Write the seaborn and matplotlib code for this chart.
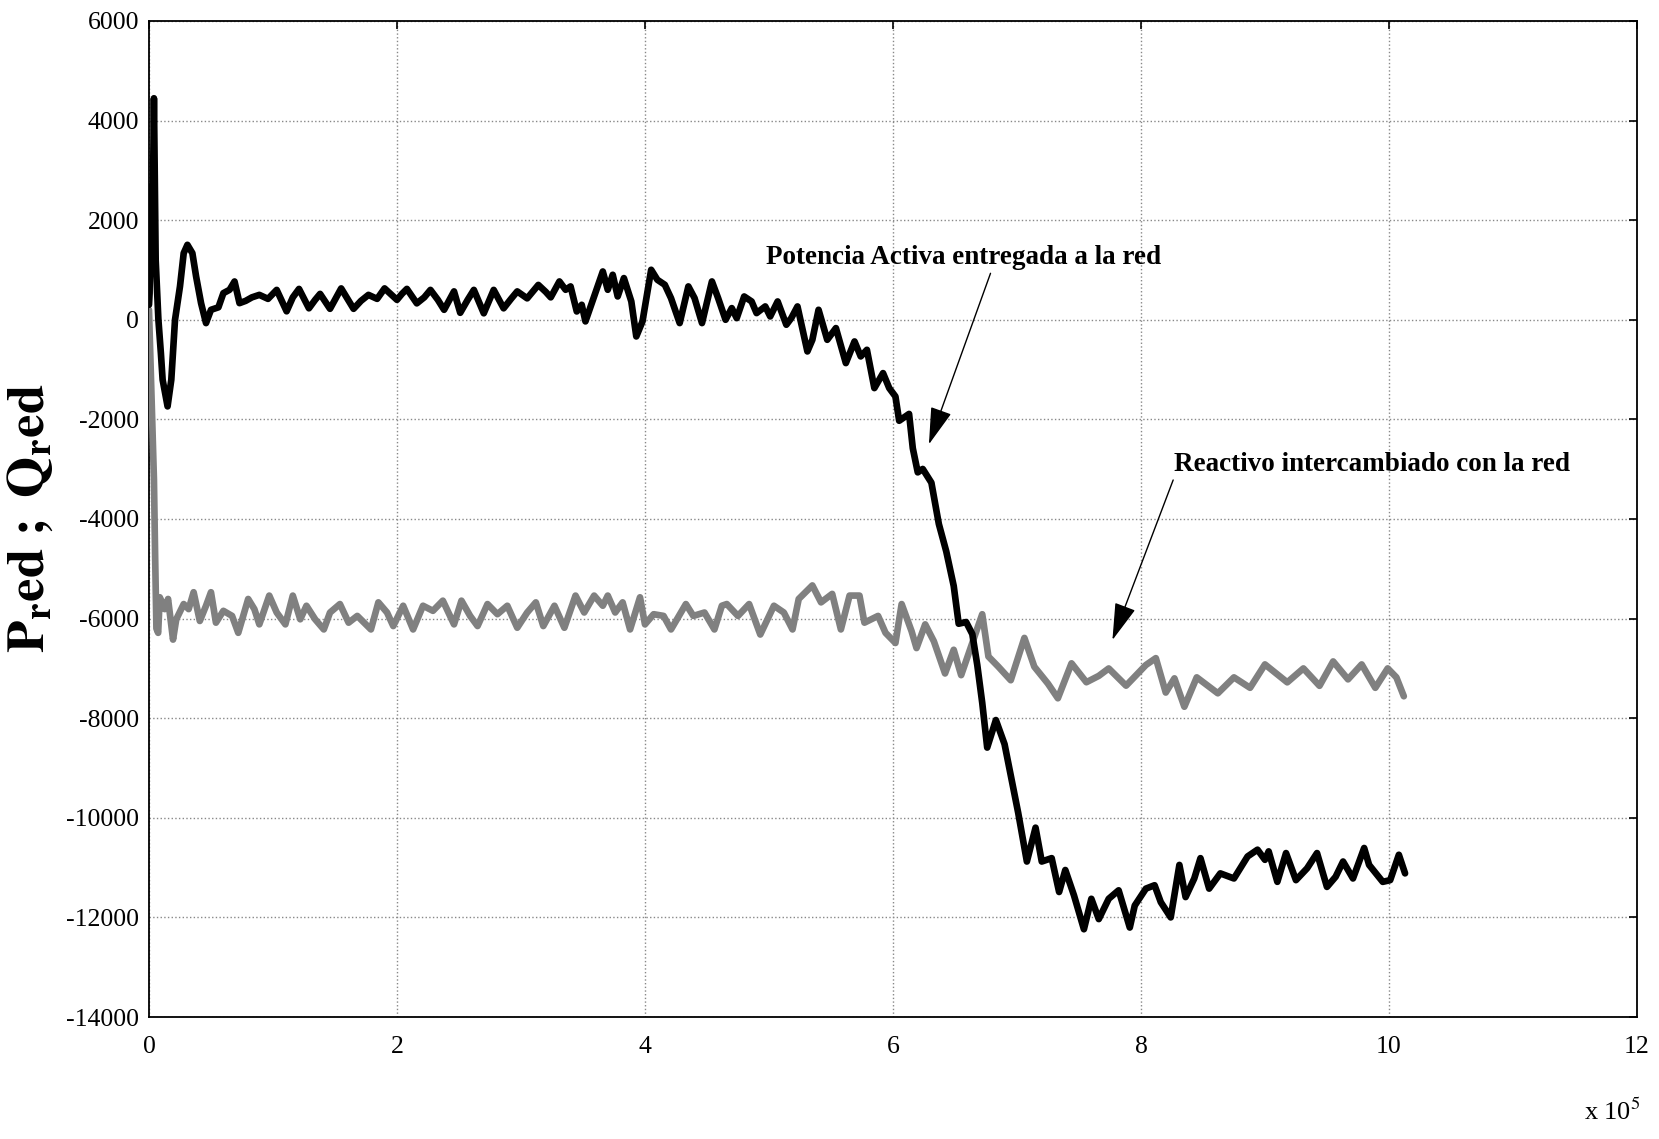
import matplotlib
matplotlib.use("Agg")
import matplotlib.pyplot as plt
import seaborn as sns
import pandas as pd

# ---------------- data (x in units of 1e5) ----------------
p_x = [0.0, 0.005, 0.013, 0.026, 0.04, 0.054, 0.076, 0.096, 0.11, 0.15,
       0.18, 0.21, 0.25, 0.28, 0.31, 0.35, 0.38, 0.42, 0.46, 0.50,
       0.56, 0.60, 0.65, 0.69, 0.73, 0.78, 0.83, 0.89, 0.96, 1.03,
       1.11, 1.16, 1.21, 1.29, 1.34, 1.38, 1.46, 1.51, 1.55, 1.65,
       1.71, 1.77, 1.84, 1.90, 2.00, 2.04, 2.08, 2.16, 2.22, 2.27,
       2.33, 2.38, 2.46, 2.51, 2.57, 2.62, 2.70, 2.78, 2.86, 2.92,
       2.97, 3.05, 3.14, 3.20, 3.24, 3.31, 3.36, 3.40, 3.45, 3.49,
       3.52, 3.59, 3.66, 3.70, 3.74, 3.78, 3.83, 3.89, 3.93, 3.98,
       4.05, 4.10, 4.16, 4.21, 4.28, 4.35, 4.40, 4.46, 4.54, 4.59,
       4.65, 4.70, 4.74, 4.80, 4.86, 4.90, 4.97, 5.01, 5.07, 5.14,
       5.18, 5.23, 5.31, 5.35, 5.40, 5.47, 5.54, 5.62, 5.69, 5.74,
       5.79, 5.85, 5.92, 5.97, 6.02, 6.05, 6.13, 6.16, 6.20, 6.24,
       6.31, 6.37, 6.43, 6.49, 6.53, 6.59, 6.64, 6.68, 6.72, 6.76,
       6.83, 6.90, 6.95, 7.01, 7.08, 7.15, 7.20, 7.28, 7.34, 7.39,
       7.46, 7.54, 7.60, 7.66, 7.74, 7.82, 7.91, 7.95, 8.04, 8.11,
       8.16, 8.24, 8.31, 8.36, 8.43, 8.48, 8.55, 8.64, 8.75, 8.86,
       8.94, 9.00, 9.03, 9.10, 9.17, 9.25, 9.34, 9.42, 9.50, 9.57,
       9.63, 9.71, 9.80, 9.84, 9.95, 10.01, 10.08, 10.13]
p_y = [300, 535, 2676, 1070, 4448, 1204, 0, -669, -1204, -1739,
       -1204, 0, 669, 1338, 1505, 1338, 870, 334, -67, 200,
       250, 535, 602, 769, 334, 380, 450, 500, 420, 600,
       170, 450, 620, 230, 400, 520, 220, 450, 630, 220,
       380, 500, 420, 630, 400, 520, 620, 330, 450, 600,
       400, 200, 570, 140, 400, 600, 130, 600, 230, 420,
       570, 430, 700, 560, 450, 770, 602, 670, 167, 301,
       -33, 468, 970, 602, 904, 468, 837, 368, -335, -33,
       1004, 803, 703, 435, -67, 670, 435, -67, 770, 435,
       0, 234, 33, 468, 368, 134, 268, 67, 368, -100,
       33, 268, -636, -402, 201, -402, -167, -870, -435, -736,
       -603, -1372, -1071, -1372, -1540, -2028, -1890, -2580, -3064, -2995,
       -3271, -4100, -4653, -5344, -6103, -6069, -6311, -6932, -7692, -8590,
       -8037, -8521, -9143, -9900, -10878, -10198, -10878, -10810, -11490, -11048,
       -11558, -12238, -11626, -12034, -11626, -11456, -12204, -11762, -11422, -11354,
       -11694, -12000, -10946, -11592, -11218, -10810, -11422, -11116, -11218, -10776,
       -10640, -10844, -10674, -11286, -10708, -11252, -11014, -10708, -11388, -11184,
       -10878, -11218, -10606, -10946, -11286, -11252, -10742, -11116]

q_x = [0.0, 0.02, 0.04, 0.05, 0.06, 0.074, 0.087, 0.127, 0.154, 0.194,
       0.22, 0.28, 0.32, 0.36, 0.41, 0.46, 0.50, 0.54, 0.60, 0.67,
       0.72, 0.80, 0.85, 0.89, 0.97, 1.03, 1.10, 1.16, 1.22, 1.27,
       1.34, 1.41, 1.46, 1.54, 1.61, 1.68, 1.79, 1.85, 1.92, 1.97,
       2.05, 2.13, 2.21, 2.29, 2.37, 2.46, 2.52, 2.59, 2.65, 2.73,
       2.81, 2.89, 2.97, 3.05, 3.12, 3.18, 3.27, 3.35, 3.44, 3.51,
       3.59, 3.66, 3.70, 3.76, 3.82, 3.88, 3.96, 4.00, 4.07, 4.15,
       4.21, 4.33, 4.39, 4.48, 4.56, 4.62, 4.66, 4.75, 4.84, 4.93,
       5.04, 5.12, 5.19, 5.24, 5.35, 5.42, 5.51, 5.58, 5.65, 5.73,
       5.77, 5.88, 5.94, 6.02, 6.07, 6.15, 6.19, 6.26, 6.33, 6.42,
       6.49, 6.55, 6.64, 6.72, 6.77, 6.85, 6.95, 7.06, 7.14, 7.25,
       7.33, 7.44, 7.56, 7.66, 7.74, 7.88, 8.04, 8.12, 8.20, 8.27,
       8.35, 8.45, 8.62, 8.75, 8.88, 9.00, 9.18, 9.31, 9.44, 9.55,
       9.67, 9.78, 9.89, 9.99, 10.06, 10.12]
q_y = [200, -1500, -3200, -4800, -6200, -6286, -5572, -5810, -5606, -6422,
       -6014, -5708, -5810, -5470, -6048, -5742, -5470, -6082, -5844, -5946,
       -6286, -5606, -5810, -6116, -5538, -5878, -6116, -5538, -6014, -5742,
       -6014, -6218, -5878, -5708, -6082, -5946, -6218, -5674, -5878, -6150,
       -5742, -6218, -5742, -5844, -5640, -6116, -5640, -5946, -6150, -5708,
       -5912, -5742, -6184, -5878, -5674, -6150, -5742, -6184, -5538, -5878,
       -5538, -5742, -5538, -5878, -5674, -6218, -5572, -6116, -5912, -5946,
       -6218, -5708, -5946, -5878, -6218, -5742, -5708, -5946, -5708, -6320,
       -5742, -5878, -6218, -5606, -5334, -5674, -5504, -6218, -5538, -5538,
       -6082, -5946, -6286, -6490, -5708, -6252, -6592, -6116, -6456, -7102,
       -6626, -7136, -6490, -5912, -6762, -6966, -7238, -6388, -6966, -7306,
       -7600, -6898, -7278, -7150, -7001, -7347, -6932, -6794, -7485, -7200,
       -7770, -7180, -7500, -7180, -7390, -6920, -7280, -7000, -7350, -6860,
       -7220, -6920, -7390, -7000, -7180, -7560]

x_ticks = [0, 2, 4, 6, 8, 10, 12]
y_ticks = [-14000, -12000, -10000, -8000, -6000, -4000, -2000, 0, 2000, 4000, 6000]

label_p = "Potencia Activa entregada a la red"
label_q = "Reactivo intercambiado con la red"

# ---------------- style ----------------
sns.set_style("white")
plt.rcParams["font.family"] = ["Liberation Serif", "DejaVu Serif"]
plt.rcParams["mathtext.fontset"] = "stix"
plt.rcParams["axes.unicode_minus"] = False
plt.rcParams["text.color"] = "black"
plt.rcParams["xtick.color"] = "black"
plt.rcParams["ytick.color"] = "black"

fig = plt.figure(figsize=(16.59, 11.39), dpi=100)
ax = fig.add_axes([0.0898, 0.1071, 0.8969, 0.8745])

df_p = pd.DataFrame({"x": p_x, "y": p_y})
df_q = pd.DataFrame({"x": q_x, "y": q_y})

sns.lineplot(data=df_q, x="x", y="y", ax=ax, color="#808080", linewidth=4.8,
             estimator=None, sort=False, solid_joinstyle="round", zorder=3)
sns.lineplot(data=df_p, x="x", y="y", ax=ax, color="black", linewidth=4.8,
             estimator=None, sort=False, solid_joinstyle="round", zorder=4)

ax.set_xlim(0, 12)
ax.set_ylim(-14000, 6000)
ax.set_xticks(x_ticks)
ax.set_yticks(y_ticks)
ax.set_xticklabels([str(t) for t in x_ticks])
ax.set_yticklabels([str(t) for t in y_ticks])
ax.tick_params(axis="both", which="both", direction="in", length=6, width=1.2,
               top=True, right=True, labelsize=18.5, colors="black")
ax.tick_params(axis="x", pad=14)
ax.tick_params(axis="y", pad=7)

ax.grid(True, linestyle=":", color="#888888", linewidth=1.0)
for s in ax.spines.values():
    s.set_visible(True)
    s.set_color("black")
    s.set_linewidth(1.3)

ax.set_xlabel("")
ax.set_ylabel("")
fig.text(0.018, 0.545, r"$\mathbf{P_r ed\ ;\ Q_r ed}$", fontsize=38,
         rotation=90, ha="center", va="center", color="black")

arrow_style = dict(arrowstyle="-|>,head_length=1.2,head_width=0.35",
                   color="black", lw=1.0, shrinkA=0, shrinkB=0)
ax.annotate(label_p, xy=(6.29, -2500), xytext=(4.98, 1250),
            fontsize=19.5, fontweight="bold", va="center", ha="left",
            color="black", arrowprops=dict(relpos=(0.57, 0.0), **arrow_style))
ax.annotate(label_q, xy=(7.77, -6430), xytext=(8.27, -2900),
            fontsize=19.5, fontweight="bold", va="center", ha="left",
            color="black", arrowprops=dict(relpos=(0.0, 0.0), **arrow_style))

fig.text(0.955, 0.012, r"x 10$^{5}$", fontsize=19, ha="left", va="bottom",
         color="black")

fig.savefig("out.png", dpi=100, facecolor="white")
